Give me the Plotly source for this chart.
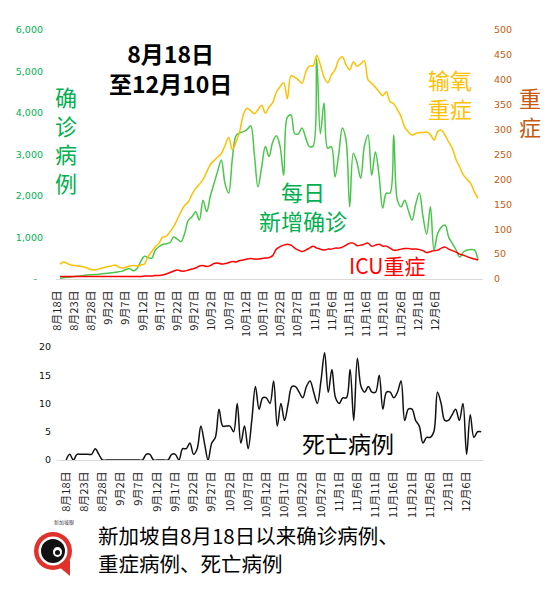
import plotly.graph_objects as go
import pandas as pd

# ---------------- data ----------------
start_date = "2021-08-18"
n_days = 115
dates = pd.date_range(start_date, periods=n_days, freq="D")
date_labels = [f"{d.month}月{d.day}日" for d in dates]

new_cases = [
    20, 30, 40, 50, 60, 70, 80, 95, 100, 105,
    110, 120, 130, 140, 150, 160, 175, 190, 230, 250,
    200, 250, 420, 550, 520, 500, 700, 780, 830, 850,
    880, 1010, 960, 900, 1100, 1420, 1500, 1620, 1420, 1900,
    1620, 2000, 2300, 2600, 2870, 2300, 2070, 2900, 3450, 3520,
    3550, 3600, 3690, 3000, 2220, 2700, 3190, 2950, 3300, 3450,
    3200, 2500, 3900, 3950, 3500, 3500, 3640, 3400, 3190, 3200,
    5300, 3500, 4240, 3150, 3190, 2460, 3000, 3640, 3350, 1740,
    3030, 2800, 2430, 3200, 3470, 2500, 3060, 2500, 1710, 2070,
    2070, 3470, 1900, 1740, 1900, 1650, 1420, 1800, 2070, 1500,
    1080, 1740, 700, 1100, 1250, 1300, 1010, 850, 700, 530,
    650, 700, 710, 700, 460,
]

oxygen = [
    30, 34, 31, 28, 27, 26, 25, 23, 20, 18,
    19, 21, 23, 25, 26, 28, 24, 22, 24, 26,
    27, 26, 28, 30, 45, 55, 65, 72, 84, 86,
    95, 105, 120, 135, 148, 155, 170, 182, 190, 200,
    215, 230, 238, 245, 252, 268, 284, 260, 275, 296,
    330, 343, 338, 332, 340, 349, 333, 345, 354, 375,
    386, 394, 362, 408, 405, 400, 393, 415, 428, 428,
    449, 430, 405, 394, 410, 420, 440, 446, 430, 420,
    436, 427, 432, 438, 400, 393, 385, 376, 368, 376,
    356, 352, 340, 326, 305, 295, 289, 292, 294, 294,
    295, 290, 279, 296, 299, 289, 275, 262, 240, 225,
    209, 200, 192, 175, 162,
]

icu = [
    5, 5, 5, 5, 5, 5, 5, 5, 5, 5,
    5, 5, 5, 5, 5, 5, 5, 5, 5, 5,
    5, 5, 5, 6, 6, 6, 7, 7, 8, 10,
    13, 16, 18, 16, 16, 18, 20, 22, 26, 27,
    25, 27, 31, 32, 30, 31, 33, 35, 34, 37,
    38, 40, 41, 40, 40, 41, 42, 43, 47, 60,
    65, 68, 70, 68, 62, 58, 55, 58, 62, 66,
    62, 60, 58, 60, 60, 62, 62, 64, 68, 72,
    72, 67, 68, 70, 72, 66, 68, 70, 66, 66,
    62, 58, 58, 60, 61, 61, 60, 60, 59, 57,
    53, 55, 57, 58, 62, 64, 60, 57, 54, 50,
    48, 45, 42, 40, 38,
]

deaths = [
    0, 1, 0, 1, 1, 1, 1, 1, 2, 1,
    0, 0, 0, 0, 0, 0, 0, 0, 0, 0,
    0, 0, 1, 1, 0, 0, 0, 0, 0, 1,
    1, 0, 2, 2, 3, 1, 2, 6, 3, 0,
    3, 4, 9, 6, 6, 6, 5, 10, 3, 6,
    2, 7, 13, 9, 11, 11, 10, 14, 6, 10,
    7, 10, 13, 13, 12, 11, 13, 14, 12, 10,
    14, 19, 12, 16, 11, 10, 11, 11, 16, 7,
    18, 13, 12, 13, 12, 12, 15, 9, 12, 12,
    11, 12, 14, 7, 9, 9, 7, 6, 3, 4,
    4, 5, 12, 10, 7, 7, 8, 9, 7, 10,
    1, 8, 4, 5, 5,
]

left_ticks = [0, 1000, 2000, 3000, 4000, 5000, 6000]
left_tick_text = ["-\u00a0\u00a0", "1,000", "2,000", "3,000", "4,000", "5,000", "6,000"]
right_ticks = list(range(0, 501, 50))
death_ticks = [0, 5, 10, 15, 20]
label_step = 5

# ---------------- style ----------------
W, H = 559, 600
GREEN_LINE = "#4ac64a"
GREEN_TXT = "#00B050"
ORANGE = "#FFC000"
RED = "#FF0000"
BROWN = "#C55A11"
CJK = "Noto Sans CJK SC, Noto Sans, sans-serif"
NUM = "DejaVu Sans, sans-serif"


def fx(p):
    return p / W


def fy(p):
    return 1 - p / H


days = list(range(n_days))
label_idx = list(range(0, n_days - 4, label_step))
label_text = [date_labels[i] for i in label_idx]
# the upper chart's category labels sit slightly compressed relative to its data
top_label_pos = [-0.8 + i * 0.938 for i in label_idx]

fig = go.Figure()
spl = dict(shape="spline", smoothing=1.0, width=1.5)
fig.add_trace(go.Scatter(x=days, y=new_cases, mode="lines",
                         line=dict(color=GREEN_LINE, **spl), xaxis="x", yaxis="y"))
fig.add_trace(go.Scatter(x=days, y=oxygen, mode="lines",
                         line=dict(color=ORANGE, **spl), xaxis="x", yaxis="y2"))
fig.add_trace(go.Scatter(x=days, y=icu, mode="lines",
                         line=dict(color=RED, **spl), xaxis="x", yaxis="y2"))
fig.add_trace(go.Scatter(x=days, y=deaths, mode="lines",
                         line=dict(color="#111111", **spl), xaxis="x2", yaxis="y3"))

xtick_font = dict(family=CJK, size=11, color="#222222")

fig.update_layout(
    template="none",
    width=W, height=H,
    margin=dict(l=0, r=0, t=0, b=0, autoexpand=False),
    paper_bgcolor="white", plot_bgcolor="white",
    showlegend=False,
    xaxis=dict(domain=[fx(56), fx(483)], anchor="y", range=[-1.09, 115.35],
               tickmode="array", tickvals=top_label_pos, ticktext=label_text,
               tickangle=-90, tickfont=xtick_font, showline=True,
               linecolor="#d9d9d9", linewidth=1.2, showgrid=False,
               zeroline=False, ticks="", ticklabelstandoff=6, automargin=False),
    yaxis=dict(domain=[fy(279), fy(30)], range=[0, 6000], tickmode="array",
               tickvals=left_ticks, ticktext=left_tick_text,
               tickfont=dict(family=NUM, size=9.5, color=GREEN_TXT),
               showgrid=False, zeroline=False, showline=False, ticks="",
               ticklabelstandoff=12, automargin=False),
    yaxis2=dict(overlaying="y", side="right", anchor="x", range=[0, 500],
                tickmode="array", tickvals=right_ticks,
                tickfont=dict(family=NUM, size=9.5, color=BROWN),
                showgrid=False, zeroline=False, showline=False, ticks="",
                ticklabelstandoff=10, automargin=False),
    xaxis2=dict(domain=[fx(57), fx(483)], anchor="y3", range=[-2.5, 114.5],
                tickmode="array", tickvals=label_idx, ticktext=label_text,
                tickangle=-90, tickfont=xtick_font, showline=True,
                linecolor="#d9d9d9", linewidth=1.2, showgrid=False,
                zeroline=False, ticks="", ticklabelstandoff=6, automargin=False),
    yaxis3=dict(domain=[fy(460), fy(347)], anchor="x2", range=[0, 20],
                tickmode="array", tickvals=death_ticks,
                tickfont=dict(family=NUM, size=9.5, color="#111111"),
                showgrid=False, zeroline=False, showline=False, ticks="",
                ticklabelstandoff=5, automargin=False),
)


def ann(text, x, y, size, color, bold=False, xanchor="center"):
    fig.add_annotation(
        text=f"<b>{text}</b>" if bold else text,
        x=fx(x), y=fy(y), xref="paper", yref="paper",
        xanchor=xanchor, yanchor="middle", showarrow=False, align="center",
        font=dict(family=CJK, size=size, color=color),
    )


ann("8月18日<br>至12月10日", 170, 68, 23, "#000000", bold=True)
ann("确<br>诊<br>病<br>例", 66, 139, 22, GREEN_TXT)
ann("每日<br>新增确诊", 303, 206, 22, GREEN_TXT)
ann("输氧<br>重症", 450, 93, 22, ORANGE)
ann("重<br>症", 530, 111, 22, BROWN)
ann("ICU重症", 387, 265, 21, RED)
ann("死亡病例", 348, 443, 23, "#000000")
ann("新加坡自8月18日以来确诊病例、", 96, 535, 20.5, "#000000", xanchor="left")
ann("重症病例、死亡病例", 96, 563, 20.5, "#000000", xanchor="left")

# logo (decorative)
cx, cy = 53, 551


def circ(r, color):
    fig.add_shape(type="circle", xref="paper", yref="paper",
                  x0=fx(cx - r), x1=fx(cx + r), y0=fy(cy + r), y1=fy(cy - r),
                  fillcolor=color, line=dict(width=0), layer="above")


fig.add_shape(type="path", xref="paper", yref="paper",
              path=f"M {fx(58)} {fy(566)} L {fx(70)} {fy(576)} L {fx(70)} {fy(560)} Z",
              fillcolor="#E0312A", line=dict(width=0), layer="above")
circ(19, "#E0312A")
circ(14.5, "#ffffff")
circ(12, "#111111")
fig.add_shape(type="circle", xref="paper", yref="paper",
              x0=fx(53), x1=fx(62), y0=fy(557), y1=fy(547),
              fillcolor="#ffffff", line=dict(width=0), layer="above")
fig.add_shape(type="circle", xref="paper", yref="paper",
              x0=fx(55), x1=fx(60), y0=fy(555), y1=fy(550),
              fillcolor="#111111", line=dict(width=0), layer="above")
fig.add_annotation(text="新加坡眼", x=fx(52), y=fy(528), xref="paper", yref="paper",
                   showarrow=False, font=dict(family=CJK, size=5, color="#444444"))

fig.write_html(
    "out.html",
    config={"displayModeBar": False},
    post_script="document.body.style.margin='0px';document.body.style.padding='0px';",
)
